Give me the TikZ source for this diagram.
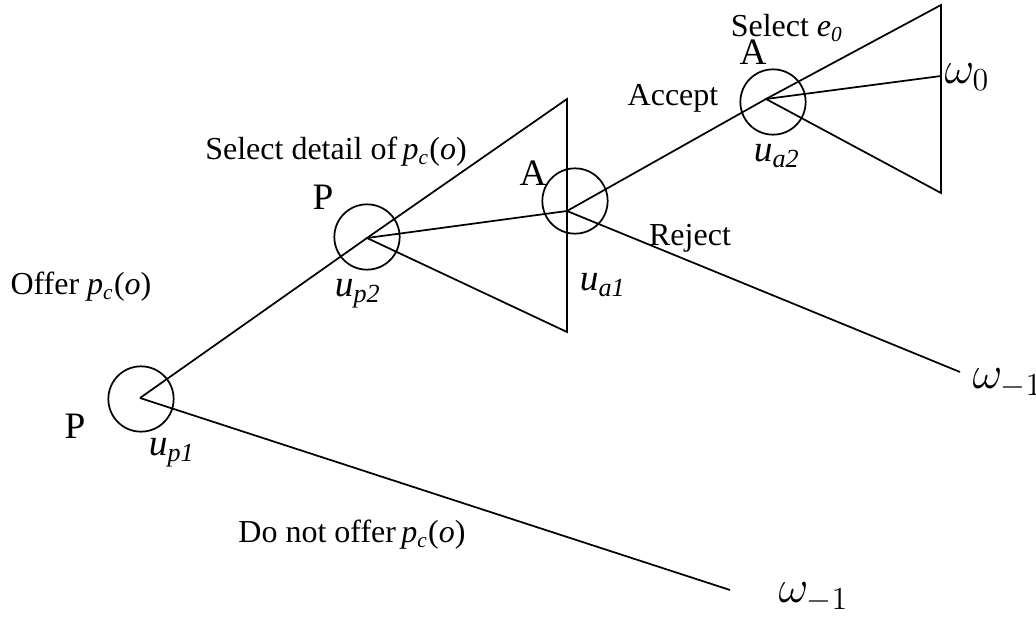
\documentclass[tikz,border=0pt]{standalone}
\usepackage{fontspec}
\setmainfont{Liberation Serif}
\definecolor{gLine}{RGB}{0,0,0}
\definecolor{gText}{RGB}{0,0,0}
\newcommand{\pco}{\textit{p}\textsubscript{\textit{c}}(\textit{o})}
\newcommand{\ulab}[1]{\textit{u}\textsubscript{\textit{#1}}}
\tikzset{
	move/.style={draw=gLine, line width=0.65pt},
	decision/.style={circle, draw=gLine, line width=0.65pt, minimum size=24.5pt, inner sep=0pt},
	lbl/.style={inner sep=0pt, text=gText, font=\fontsize{12}{14}\selectfont},
	player/.style={inner sep=0pt, text=gText, font=\fontsize{14}{16}\selectfont},
	payoff/.style={inner sep=0pt, anchor=west, text=gText, font=\fontsize{18}{20}\selectfont}
}

\begin{document}
\begin{tikzpicture}[x=0.375pt, y=-0.375pt]
			\useasboundingbox (0,0) rectangle (1036,617);
			\coordinate (vP1) at (140,398);
			\coordinate (vP2) at (367,238);
			\coordinate (vA1) at (567,211);
			\coordinate (vA2) at (766,99);
			\coordinate (t1top) at (567,99);
			\coordinate (t1bot) at (567,332);
			\coordinate (t2top) at (941,5);
			\coordinate (t2bot) at (941,193);
			\coordinate (t2mid) at (941,76);
			\coordinate (endR) at (960,372);
			\coordinate (endD) at (730,590);

			\node[decision] (cP1) at (141,399) {};
			\node[decision] (cP2) at (367,237) {};
			\node[decision] (cA1) at (575,201) {};
			\node[decision] (cA2) at (773,102) {};

			\draw[move] (vP1) -- (vP2);
			\draw[move] (vP1) -- (endD);
			\draw[move] (vP2) -- (t1top) -- (t1bot) -- cycle;
			\draw[move] (vP2) -- (vA1);
			\draw[move] (vA1) -- (vA2);
			\draw[move] (vA1) -- (endR);
			\draw[move] (vA2) -- (t2top) -- (t2bot) -- cycle;
			\draw[move] (vA2) -- (t2mid);

			\node[player] (pOne) at (75,426) {P};
			\node[player] (uPOne) at (172,453) {\ulab{p1}};
			\node[player] (pTwo) at (323,197) {P};
			\node[player] (uPTwo) at (358,294) {\ulab{p2}};
			\node[lbl, anchor=west] (offer) at (10,287) {Offer \pco};
			\node[lbl] (selDetail) at (336,152) {Select detail of\,\pco};
			\node[player] (aOne) at (533,173) {A};
			\node[player] (uAOne) at (603,285) {\ulab{a1}};
			\node[lbl] (accept) at (673,98) {Accept};
			\node[lbl] (selE) at (787,28) {Select \textit{e}\textsubscript{\textit{0}}};
			\node[player] (aTwo) at (753,52) {A};
			\node[player] (uATwo) at (777,156) {\ulab{a2}};
			\node[lbl] (reject) at (690,238) {Reject};
			\node[lbl] (noOffer) at (352,535) {Do not offer\,\pco};
			\node[payoff] (wZero) at (944,77) {\(\omega_0\)};
			\node[payoff] (wRej) at (972,383) {\(\omega_{-1}\)};
			\node[payoff] (wNo) at (778,597) {\(\omega_{-1}\)};
		\end{tikzpicture}
\end{document}
